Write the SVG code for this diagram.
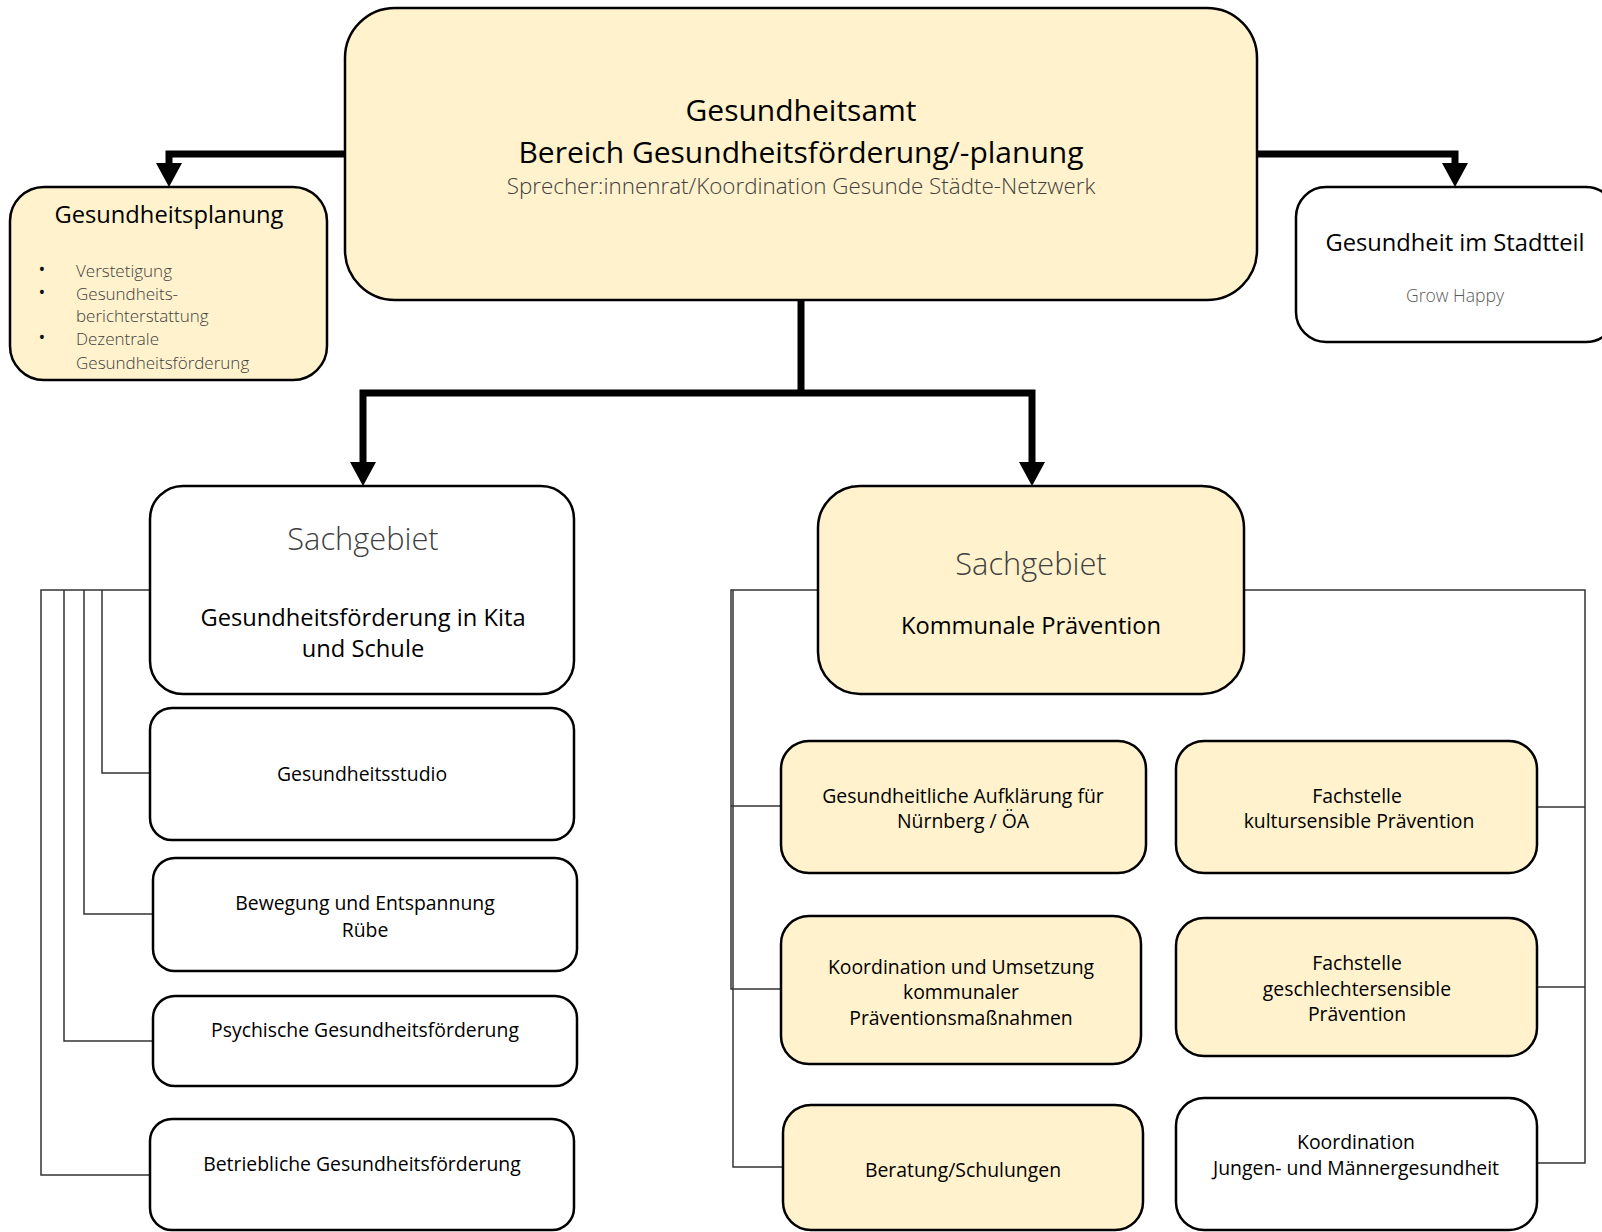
<svg xmlns="http://www.w3.org/2000/svg" width="1602" height="1232" viewBox="0 0 1602 1232">
<defs>
<style>
.box{stroke:#000;stroke-width:2.5}
.y{fill:#FFF2CC}
.w{fill:#FFFFFF}
text{font-family:"Open Sans","Noto Sans","Liberation Sans",sans-serif;text-anchor:middle;dominant-baseline:central;fill:#000}
.t30{font-size:30px}
.t24{font-size:23.7px}
.t19{font-size:19.4px}
.sub{font-size:22.4px;font-weight:300;fill:#404040}
.sg{font-size:30.8px;font-weight:300;fill:#404040}
.bul{font-size:17px;font-weight:300;fill:#404040;text-anchor:start}
.dot{font-size:18px;font-weight:400;fill:#111;text-anchor:middle}
.gh{font-size:17.6px;font-weight:300;fill:#595959}
.thick{fill:none;stroke:#000;stroke-width:7;marker-end:url(#ah)}
.thin{fill:none;stroke:#333;stroke-width:1.5}
</style>
<marker id="ah" markerUnits="userSpaceOnUse" markerWidth="26" markerHeight="26" viewBox="0 0 24 26" refX="0" refY="13" orient="auto">
<path d="M0,0 L24,13 L0,26 Z" fill="#000"/>
</marker>
</defs>

<g id="connectors">
<path class="thick" d="M345,154 H169 V163"/>
<path class="thick" d="M1257,154 H1455 V163"/>
<path fill="none" stroke="#000" stroke-width="7" d="M801,300 V393"/>
<path class="thick" d="M801,393 H363 V462"/>
<path class="thick" d="M801,393 H1032 V462"/>
<path class="thin" d="M150,590 H41 V1175 H150"/>
<path class="thin" d="M64,590 V1041 H153"/>
<path class="thin" d="M84,590 V914 H153"/>
<path class="thin" d="M102,590 V773 H150"/>
<path class="thin" d="M818,590 H731 V989 H781"/>
<path class="thin" d="M733,590 V1167 H783"/>
<path class="thin" d="M731,806 H781"/>
<path class="thin" d="M1244,590 H1585 V1163 H1537"/>
<path class="thin" d="M1585,807 H1537"/>
<path class="thin" d="M1585,987 H1537"/>
</g>

<g id="main">
<rect class="box y" x="345" y="8" width="912" height="292" rx="50"/>
<text class="t30" x="801" y="109">Gesundheitsamt</text>
<text class="t30" x="801" y="151">Bereich Gesundheitsförderung/-planung</text>
<text class="sub" x="801" y="185">Sprecher:innenrat/Koordination Gesunde Städte-Netzwerk</text>
</g>

<g id="gesundheitsplanung">
<rect class="box y" x="10" y="187" width="317" height="193" rx="34"/>
<text class="t24" x="169" y="214">Gesundheitsplanung</text>
<text class="dot" x="42" y="269">•</text>
<text class="bul" x="76" y="270">Verstetigung</text>
<text class="dot" x="42" y="292">•</text>
<text class="bul" x="76" y="293">Gesundheits-</text>
<text class="bul" x="76" y="315">berichterstattung</text>
<text class="dot" x="42" y="337">•</text>
<text class="bul" x="76" y="338">Dezentrale</text>
<text class="bul" x="76" y="362">Gesundheitsförderung</text>
</g>

<g id="stadtteil">
<rect class="box w" x="1296" y="187" width="320" height="155" rx="30"/>
<text class="t24" x="1455" y="242">Gesundheit im Stadtteil</text>
<text class="gh" x="1455" y="295">Grow Happy</text>
</g>

<g id="sg-kita">
<rect class="box w" x="150" y="486" width="424" height="208" rx="33"/>
<text class="sg" x="363" y="538">Sachgebiet</text>
<text class="t24" x="363" y="617">Gesundheitsförderung in Kita</text>
<text class="t24" x="363" y="648">und Schule</text>
</g>

<g id="studio">
<rect class="box w" x="150" y="708" width="424" height="132" rx="22"/>
<text class="t19" x="362" y="773">Gesundheitsstudio</text>
</g>

<g id="bewegung">
<rect class="box w" x="153" y="858" width="424" height="113" rx="22"/>
<text class="t19" x="365" y="902">Bewegung und Entspannung</text>
<text class="t19" x="365" y="929">Rübe</text>
</g>

<g id="psychische">
<rect class="box w" x="153" y="996" width="424" height="90" rx="22"/>
<text class="t19" x="365" y="1029">Psychische Gesundheitsförderung</text>
</g>

<g id="betriebliche">
<rect class="box w" x="150" y="1119" width="424" height="111" rx="22"/>
<text class="t19" x="362" y="1163">Betriebliche Gesundheitsförderung</text>
</g>

<g id="sg-praevention">
<rect class="box y" x="818" y="486" width="426" height="208" rx="42"/>
<text class="sg" x="1031" y="563">Sachgebiet</text>
<text class="t24" x="1031" y="625">Kommunale Prävention</text>
</g>

<g id="aufklaerung">
<rect class="box y" x="781" y="741" width="365" height="132" rx="28"/>
<text class="t19" x="963" y="795">Gesundheitliche Aufklärung für</text>
<text class="t19" x="963" y="820">Nürnberg / ÖA</text>
</g>

<g id="kultursensibel">
<rect class="box y" x="1176" y="741" width="361" height="132" rx="28"/>
<text class="t19" x="1357" y="795">Fachstelle</text>
<text class="t19" x="1359" y="820">kultursensible Prävention</text>
</g>

<g id="koordination-umsetzung">
<rect class="box y" x="781" y="916" width="360" height="148" rx="28"/>
<text class="t19" x="961" y="966">Koordination und Umsetzung</text>
<text class="t19" x="961" y="991">kommunaler</text>
<text class="t19" x="961" y="1017">Präventionsmaßnahmen</text>
</g>

<g id="geschlechtersensibel">
<rect class="box y" x="1176" y="918" width="361" height="138" rx="28"/>
<text class="t19" x="1357" y="962">Fachstelle</text>
<text class="t19" x="1357" y="988">geschlechtersensible</text>
<text class="t19" x="1357" y="1013">Prävention</text>
</g>

<g id="beratung">
<rect class="box y" x="783" y="1105" width="360" height="125" rx="28"/>
<text class="t19" x="963" y="1169">Beratung/Schulungen</text>
</g>

<g id="jungen">
<rect class="box w" x="1176" y="1098" width="361" height="132" rx="28"/>
<text class="t19" x="1356" y="1141">Koordination</text>
<text class="t19" x="1356" y="1167">Jungen- und Männergesundheit</text>
</g>
</svg>
